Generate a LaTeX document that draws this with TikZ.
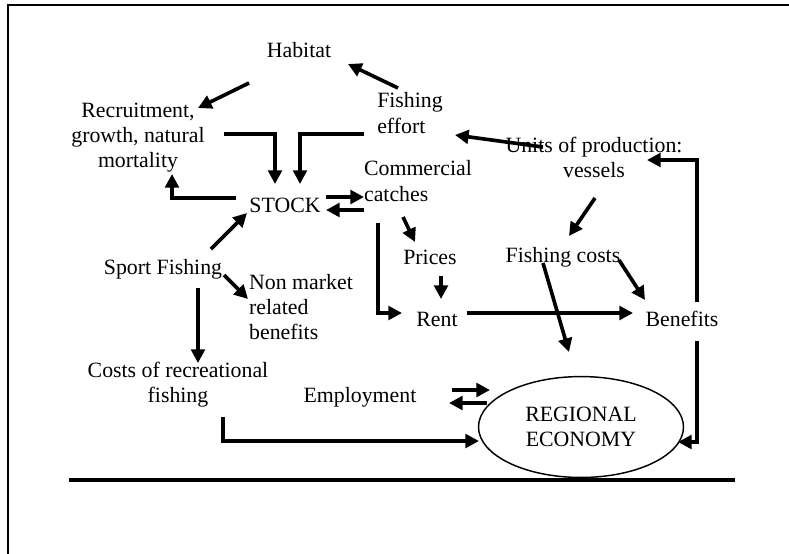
\documentclass[tikz,border=0pt]{standalone}
\usepackage{fontspec}
\setmainfont{Liberation Serif}
\usetikzlibrary{shapes,arrows.meta,calc}
\tikzset{every picture/.append style={line width=2pt,>={Triangle[length=7.5pt,width=7.5pt]}}}

\begin{document}
\begin{tikzpicture}[x=0.55pt,y=-0.55pt]
      \tikzstyle{lbl}=[inner sep=1pt,align=center,font=\fontsize{12pt}{13.8pt}\selectfont]
      \useasboundingbox (0,0) rectangle (789,553);
      % frame and ground line
      \draw[line width=0.8pt] (8,600) |- (800,5);
      \draw (69,480) -- (735,480);
      % nodes
      \node[lbl] at (299,50) (H) {Habitat};
      \node[lbl] at (138,138) (R) {Recruitment,\\growth, natural\\mortality};
      \node[lbl,align=left] at (410,113) (E) {Fishing\\effort};
      \node[lbl] at (594,157) (U) {Units of production:\\vessels};
      \node[lbl,align=left] at (418,181) (C) {Commercial\\catches};
      \node[lbl] at (285,205) (S) {STOCK};
      \node[lbl] at (430,257) (P) {Prices};
      \node[lbl] at (563,257) (F) {Fishing costs};
      \node[lbl] at (437,319) (Rt) {Rent};
      \node[lbl] at (682,319) (B) {Benefits};
      \node[lbl] at (163,269) (Sp) {Sport Fishing};
      \node[lbl,align=left] at (301,307) (N) {Non market\\related\\benefits};
      \node[lbl] at (178,385) (Cr) {Costs of recreational\\fishing};
      \node[lbl] at (360,397) (Em) {Employment};
      \node[lbl,draw,ellipse,line width=0.8pt,inner sep=0pt,minimum width=112.75pt,minimum height=55.5pt] at (581,427) (G) {REGIONAL\\ECONOMY};
      % connectors
      \draw[->] ($(H)+(-50,33)$) -- ($(R)+(60,-30)$);
      \draw[->] ($(E)+(-12,-25)$) -- ($(H)+(49,14)$);
      \draw[->] ($(R)+(86,-4)$) -| ($(S)+(-10,-21)$);
      \draw[->] ($(E)+(-46,21)$) -| ($(S)+(15,-21)$);
      \draw[->] ($(S)+(-49,-7)$) -| ($(R)+(34,36)$);
      \draw[->] ($(S)+(41,-8)$) -- ($(C)+(-54,16)$);
      \draw[->] ($(C)+(-54,29)$) -- ($(S)+(41,5)$);
      \draw[->] ($(U)+(-51,-10)$) -- ($(E)+(45,22)$);
      \draw[->] ($(B)+(15,-17)$) |- ($(U)+(53,3)$);
      \draw[->] ($(B)+(15,22)$) |- ($(G)+(97,15)$);
      \draw[->] ($(C)+(-40,42)$) |- ($(Rt)+(-35,-6)$);
      \draw[->] ($(C)+(-15,36)$) -- ($(P)+(-15,-15)$);
      \draw[->] ($(P)+(11,19)$) -- ($(Rt)+(4,-20)$);
      \draw[->] ($(Rt)+(30,-6)$) -- ($(B)+(-49,-6)$);
      \draw[->] ($(U)+(1,41)$) -- ($(F)+(6,-21)$);
      \draw[->] ($(F)+(-20,6)$) -- ($(G)+(-12,-75)$);
      \draw[->] ($(F)+(56,3)$) -- ($(B)+(-37,-19)$);
      \draw[->] ($(Sp)+(48,-20)$) -- ($(S)+(-38,8)$);
      \draw[->] ($(Sp)+(61,6)$) -- ($(N)+(-53,-8)$);
      \draw[->] ($(Sp)+(35,19)$) -- ($(Cr)+(20,-22)$);
      \draw[->] ($(Cr)+(45,32)$) |- ($(G)+(-102,14)$);
      \draw[->] ($(Em)+(92,-7)$) -- ($(G)+(-91,-37)$);
      \draw[->] ($(G)+(-94,-24)$) -- ($(Em)+(89,6)$);
    \end{tikzpicture}
\end{document}
